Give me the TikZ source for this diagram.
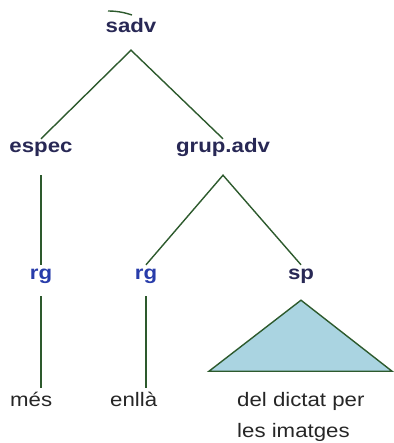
\documentclass[tikz,border=0pt]{standalone}
\usepackage{fontspec}
\setmainfont{Liberation Sans}
\usepackage{tikz}
\usetikzlibrary{positioning}
\usepackage[dvipsnames,svgnames,x11names]{xcolor}

\definecolor{brancaverd}{RGB}{45,90,45}
\definecolor{etiqblau}{RGB}{40,40,85}
\definecolor{rgblau}{RGB}{40,60,170}
\definecolor{trifill}{RGB}{170,212,225}

\begin{document}
\begin{tikzpicture}[
    x=1pt, y=-1pt,
    etiqueta/.style={
        inner sep=0pt, anchor=base, xscale=1.14,
        text height=14pt, text depth=4pt,
        font=\fontsize{19.5}{23}\selectfont\bfseries,
        text=etiqblau
    },
    categoria/.style={etiqueta, text=rgblau},
    mot/.style={
        inner sep=0pt, anchor=base west, xscale=1.14,
        text height=14pt, text depth=4pt,
        font=\fontsize{19.5}{23}\selectfont,
        text=black!85
    },
    branca/.style={draw=brancaverd, line width=1.4pt}
]

    \useasboundingbox (0,0) rectangle (393,443);

    % Resta de la figura de dalt
    \draw[
        brancaverd,
        line width=1.4pt
    ] (108,11) .. controls (118,11) and (126,13) .. (132,15);

    % Nodes
    \node[etiqueta] (sadv) at (131,33) {sadv};
    \node[etiqueta] (espec) at (41,153) {espec};
    \node[etiqueta] (grup) at (223,153) {grup.adv};
    \node[categoria] (rga) at (41,279) {rg};
    \node[categoria] (rgb) at (146,279) {rg};
    \node[etiqueta] (sp) at (301,279) {sp};

    % Mots
    \node[mot] (mes) at (10,406) {més};
    \node[mot] (enlla) at (110,406) {enllà};
    \node[mot] (dictat) at (237,406) {del dictat per};
    \node[mot] (imatges) at (237,437) {les imatges};

    % Branques
    \draw[branca] (espec.north) -- ([yshift=-13pt]sadv.south) -- (grup.north);
    \draw[branca] ([yshift=-18pt]espec.south) -- (rga.north);
    \draw[branca] (rgb.north) -- ([yshift=-18pt]grup.south) -- (sp.north);
    \draw[branca] ([yshift=-13pt]rga.south) -- ([yshift=4pt]rga.south |- mes.north);
    \draw[branca] ([yshift=-13pt]rgb.south) -- ([yshift=4pt]rgb.south |- enlla.north);

    % Triangle
    \draw[
        branca,
        fill=trifill
    ] ([yshift=-17pt]sp.south) -- ++(-92,71) -- ++(183,0) -- cycle;

\end{tikzpicture}
\end{document}
